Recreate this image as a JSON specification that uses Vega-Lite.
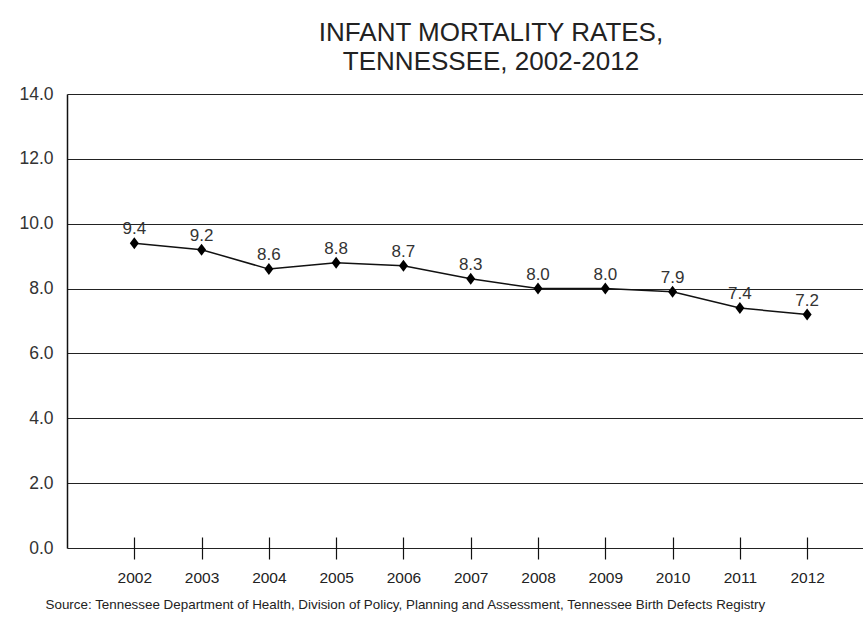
{
  "$schema": "https://vega.github.io/schema/vega-lite/v6.json",
  "autosize": "none",
  "width": 796,
  "height": 454,
  "padding": {"left": 67, "top": 94, "right": 0, "bottom": 69},
  "background": "white",
  "config": {
    "view": {"stroke": null},
    "font": "Liberation Sans"
  },
  "title": {
    "text": ["INFANT MORTALITY RATES,", "  TENNESSEE, 2002-2012"],
    "font": "Liberation Sans",
    "fontSize": 26,
    "fontWeight": "normal",
    "color": "#222222",
    "anchor": "middle",
    "frame": "group",
    "dx": 26,
    "lineHeight": 29,
    "offset": 10
  },
  "data": {
    "values": [
      {"year": 2002, "rate": 9.4},
      {"year": 2003, "rate": 9.2},
      {"year": 2004, "rate": 8.6},
      {"year": 2005, "rate": 8.8},
      {"year": 2006, "rate": 8.7},
      {"year": 2007, "rate": 8.3},
      {"year": 2008, "rate": 8.0},
      {"year": 2009, "rate": 8.0},
      {"year": 2010, "rate": 7.9},
      {"year": 2011, "rate": 7.4},
      {"year": 2012, "rate": 7.2}
    ]
  },
  "encoding": {
    "x": {
      "field": "year",
      "type": "quantitative",
      "scale": {"domain": [2001, 2012.83], "nice": false, "zero": false},
      "axis": {
        "values": [2002, 2003, 2004, 2005, 2006, 2007, 2008, 2009, 2010, 2011, 2012],
        "format": "d",
        "grid": false,
        "domain": false,
        "offset": -11,
        "tickSize": 22,
        "tickColor": "#111111",
        "tickWidth": 1.2,
        "labelFontSize": 15.5,
        "labelColor": "#222222",
        "labelPadding": 11,
        "title": "Source:  Tennessee Department of Health, Division of Policy, Planning and Assessment, Tennessee Birth Defects Registry",
        "titleFontSize": 13.4,
        "titleFontWeight": "normal",
        "titleColor": "#222222",
        "titleAnchor": "start",
        "titleAlign": "left",
        "titleX": -22,
        "titleY": 71,
        "titleBaseline": "alphabetic"
      }
    },
    "y": {
      "field": "rate",
      "type": "quantitative",
      "scale": {"domain": [0, 14], "nice": false},
      "axis": {
        "values": [0, 2, 4, 6, 8, 10, 12, 14],
        "format": ".1f",
        "grid": true,
        "gridColor": "#222222",
        "gridWidth": 1.2,
        "gridOpacity": 1,
        "domain": true,
        "domainColor": "#111111",
        "domainWidth": 1.5,
        "ticks": false,
        "labelFontSize": 17.5,
        "labelColor": "#333333",
        "labelPadding": 14,
        "title": null
      }
    }
  },
  "layer": [
    {
      "mark": {"type": "line", "color": "#111111", "strokeWidth": 1.5}
    },
    {
      "mark": {
        "type": "point",
        "shape": "M0,-1.2L0.9,0L0,1.2L-0.9,0Z",
        "filled": true,
        "color": "#000000",
        "opacity": 1,
        "size": 100
      }
    },
    {
      "mark": {
        "type": "text",
        "dy": -14,
        "fontSize": 17,
        "color": "#333333",
        "baseline": "middle",
        "align": "center"
      },
      "encoding": {
        "text": {"field": "rate", "type": "quantitative", "format": ".1f"}
      }
    }
  ]
}
